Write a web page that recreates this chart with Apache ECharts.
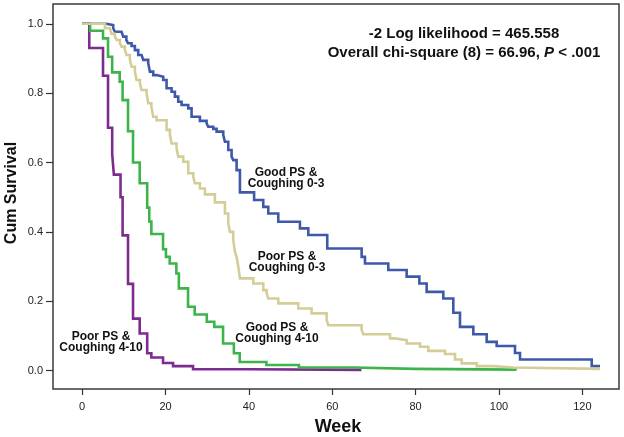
<!DOCTYPE html>
<html>
<head>
<meta charset="utf-8">
<script src="https://cdn.jsdelivr.net/npm/echarts@6/dist/echarts.min.js"></script>
<style>
html,body{margin:0;padding:0;background:#fff;}
#chart{width:624px;height:437px;}
</style>
</head>
<body>
<div id="chart"></div>
<script>
// X tick labels and Y tick labels
var xTicks = [0, 20, 40, 60, 80, 100, 120];
var yTicks = [0, 0.2, 0.4, 0.6, 0.8, 1.0];

// Good PS & Coughing 0-3 (blue)
var goodLowWeeks = [0, 5.85, 7.45, 7.85, 9.45, 9.85, 10.6, 11.0, 11.85, 12.65, 13.45, 14.25, 14.65, 15.85, 16.25, 17.05, 17.85, 19.45, 20.25, 21.45, 22.25, 23.05, 23.85, 25.45, 26.25, 28.25, 29.85, 30.25, 31.45, 32.25, 33.85, 34.25, 35.05, 35.85, 36.25, 37.05, 37.85, 41.25, 43.45, 44.65, 47.05, 52.25, 54.25, 58.8, 67.05, 67.85, 73.45, 77.85, 80.9, 82.65, 86.65, 89.05, 90.65, 93.85, 97.05, 99.45, 103.85, 105.05, 122.25, 124.25];
var goodLowSurv = [1.0, 0.996, 0.987, 0.977, 0.972, 0.963, 0.953, 0.944, 0.936, 0.924, 0.91, 0.905, 0.896, 0.886, 0.862, 0.852, 0.847, 0.838, 0.814, 0.804, 0.79, 0.775, 0.766, 0.756, 0.732, 0.72, 0.713, 0.703, 0.697, 0.689, 0.679, 0.66, 0.636, 0.617, 0.607, 0.578, 0.514, 0.492, 0.472, 0.453, 0.429, 0.41, 0.391, 0.352, 0.328, 0.309, 0.29, 0.271, 0.251, 0.227, 0.208, 0.167, 0.126, 0.105, 0.083, 0.071, 0.051, 0.032, 0.013, 0.013];

// Poor PS & Coughing 0-3 (tan)
var poorLowWeeks = [0, 5.45, 6.65, 7.05, 7.85, 8.25, 9.05, 9.45, 10.25, 10.65, 11.45, 11.85, 12.65, 13.05, 13.85, 14.25, 15.45, 15.85, 16.6, 17.05, 17.85, 20.25, 21.05, 21.45, 22.65, 23.05, 24.25, 25.45, 26.65, 27.05, 28.25, 29.45, 31.85, 34.25, 35.05, 35.45, 36.25, 36.65, 37.05, 37.45, 37.85, 41.05, 43.45, 44.25, 44.65, 47.05, 51.85, 55.05, 58.65, 59.05, 67.05, 67.45, 73.85, 75.05, 77.85, 81.05, 83.05, 87.05, 89.45, 91.05, 94.65, 98.65, 103.45, 124.25];
var poorLowSurv = [1.0, 0.987, 0.982, 0.971, 0.963, 0.953, 0.944, 0.934, 0.924, 0.91, 0.896, 0.876, 0.862, 0.838, 0.828, 0.809, 0.80, 0.771, 0.761, 0.732, 0.722, 0.694, 0.679, 0.655, 0.641, 0.617, 0.602, 0.569, 0.559, 0.54, 0.525, 0.508, 0.485, 0.453, 0.425, 0.40, 0.376, 0.343, 0.328, 0.30, 0.266, 0.251, 0.232, 0.223, 0.208, 0.194, 0.179, 0.165, 0.146, 0.131, 0.117, 0.105, 0.093, 0.088, 0.078, 0.069, 0.057, 0.048, 0.032, 0.021, 0.013, 0.009, 0.005, 0.003];

// Good PS & Coughing 4-10 (green)
var goodHighWeeks = [0, 1.9, 5.0, 6.2, 7.2, 9.0, 9.7, 11.0, 12.2, 13.8, 15.6, 16.1, 16.6, 19.4, 20.1, 21.0, 22.6, 23.2, 25.4, 27.0, 29.9, 31.7, 33.8, 36.4, 37.8, 44.2, 52, 65, 80, 104];
var goodHighSurv = [1.0, 0.98, 0.958, 0.905, 0.86, 0.833, 0.78, 0.69, 0.60, 0.54, 0.47, 0.43, 0.394, 0.35, 0.328, 0.309, 0.28, 0.237, 0.184, 0.162, 0.141, 0.126, 0.078, 0.05, 0.025, 0.016, 0.009, 0.005, 0.003, 0.0];

// Poor PS & Coughing 4-10 (purple)
var poorHighWeeks = [0, 1.7, 5.0, 6.2, 7.2, 7.6, 9.2, 9.7, 11.0, 12.2, 13.8, 15.6, 16.6, 19.4, 21.8, 26.6, 40, 67];
var poorHighSurv = [1.0, 0.93, 0.85, 0.70, 0.625, 0.565, 0.50, 0.39, 0.25, 0.15, 0.107, 0.05, 0.038, 0.022, 0.013, 0.004, 0.002, 0.0];

function pairs(w, s) { return w.map(function (v, i) { return [v, s[i]]; }); }

var FONT = '"Liberation Sans", Arial, Helvetica, sans-serif';
var chart = echarts.init(document.getElementById('chart'), null, { renderer: 'canvas' });

function kmSeries(name, w, s, color, z) {
  return {
    name: name, type: 'line', step: 'end', data: pairs(w, s),
    showSymbol: false, symbol: 'none', z: z, animation: false,
    lineStyle: { color: color, width: 2.6, join: 'miter' }
  };
}

chart.setOption({
  animation: false,
  backgroundColor: '#ffffff',
  grid: { left: 53, top: 4, right: 5, bottom: 48, show: true, borderColor: '#3a3a3a', borderWidth: 1.5, backgroundColor: 'transparent' },
  xAxis: {
    type: 'value', min: -7, max: 128.8,
    axisLine: { show: false, onZero: false },
    splitLine: { show: false },
    axisTick: { show: true, inside: false, length: 6, customValues: xTicks, lineStyle: { color: '#333', width: 1.2 } },
    axisLabel: { customValues: xTicks, margin: 12, fontSize: 11, color: '#222', fontFamily: FONT }
  },
  yAxis: {
    type: 'value', min: -0.053, max: 1.057,
    axisLine: { show: false, onZero: false },
    splitLine: { show: false },
    axisTick: { show: true, inside: false, length: 7, customValues: yTicks, lineStyle: { color: '#333', width: 1.2 } },
    axisLabel: { customValues: yTicks, margin: 10, fontSize: 11, color: '#222', fontFamily: FONT,
      formatter: function (v) { return v.toFixed(1); } }
  },
  series: [
    kmSeries('Poor PS & Coughing 4-10', poorHighWeeks, poorHighSurv, '#7d2b8e', 2),
    kmSeries('Good PS & Coughing 4-10', goodHighWeeks, goodHighSurv, '#3cb44a', 3),
    kmSeries('Good PS & Coughing 0-3', goodLowWeeks, goodLowSurv, '#3e59a9', 4),
    kmSeries('Poor PS & Coughing 0-3', poorLowWeeks, poorLowSurv, '#d5cd98', 5)
  ],
  graphic: [
    { type: 'text', x: 12, y: 193, rotation: Math.PI / 2,
      style: { text: 'Cum Survival', font: 'bold 16px ' + FONT, fill: '#111', textAlign: 'center', textVerticalAlign: 'middle' } },
    { type: 'text', x: 338, y: 427,
      style: { text: 'Week', font: 'bold 18px ' + FONT, fill: '#111', textAlign: 'center', textVerticalAlign: 'middle' } },
    { type: 'text', x: 464, y: 34,
      style: { text: '-2 Log likelihood = 465.558', font: 'bold 15px ' + FONT, fill: '#111', textAlign: 'center', textVerticalAlign: 'middle' } },
    { type: 'text', x: 464, y: 53,
      style: { text: '{b|Overall chi-square (8) = 66.96, }{i|P}{b| < .001}', textAlign: 'center', textVerticalAlign: 'middle',
        rich: { b: { font: 'bold 15px ' + FONT, fill: '#111' }, i: { font: 'italic bold 15px ' + FONT, fill: '#111' } } } },
    { type: 'text', x: 286, y: 178,
      style: { text: 'Good PS &\nCoughing 0-3', font: 'bold 12px ' + FONT, lineHeight: 11, fill: '#111', textAlign: 'center', textVerticalAlign: 'middle' } },
    { type: 'text', x: 287, y: 262.5,
      style: { text: 'Poor PS &\nCoughing 0-3', font: 'bold 12px ' + FONT, lineHeight: 11, fill: '#111', textAlign: 'center', textVerticalAlign: 'middle' } },
    { type: 'text', x: 277, y: 333.5,
      style: { text: 'Good PS &\nCoughing 4-10', font: 'bold 12px ' + FONT, lineHeight: 11, fill: '#111', textAlign: 'center', textVerticalAlign: 'middle' } },
    { type: 'text', x: 101, y: 342,
      style: { text: 'Poor PS &\nCoughing 4-10', font: 'bold 12px ' + FONT, lineHeight: 11, fill: '#111', textAlign: 'center', textVerticalAlign: 'middle' } }
  ]
});
</script>
</body>
</html>
